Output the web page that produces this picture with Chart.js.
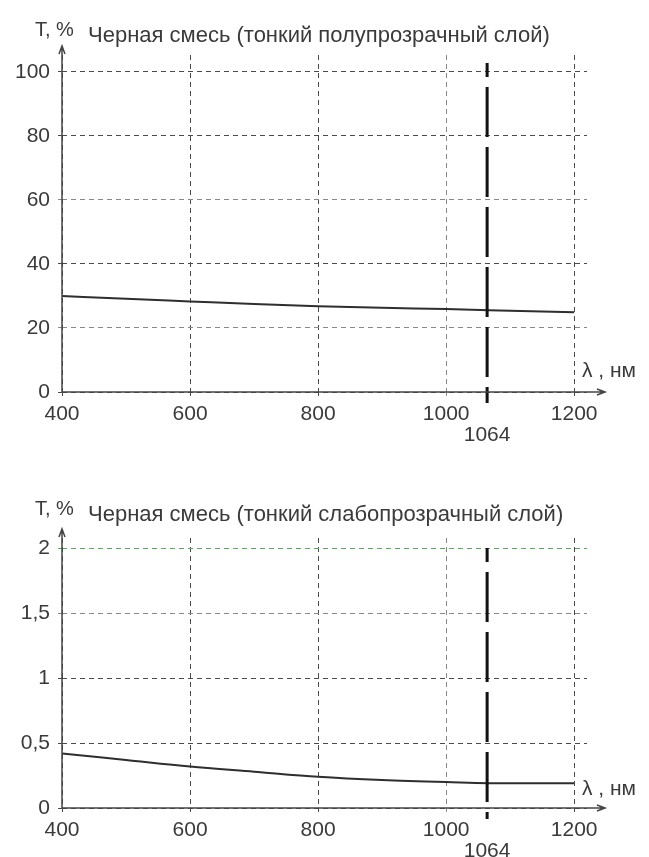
<!DOCTYPE html>
<html>
<head>
<meta charset="utf-8">
<script src="https://cdn.jsdelivr.net/npm/chart.js@4.4.1/dist/chart.umd.min.js"></script>
<style>
  html, body { margin: 0; padding: 0; background: #fff; }
  .box { position: absolute; left: 0; width: 649px; }
  #top-box { top: 0; height: 452px; }
  #bottom-box { top: 452px; height: 405px; }
</style>
</head>
<body>
<div class="box" id="top-box"><canvas id="chart-top"></canvas></div>
<div class="box" id="bottom-box"><canvas id="chart-bottom"></canvas></div>
<script>
// Données
const wavelength = [400, 500, 600, 700, 800, 900, 1000, 1100, 1200];
const transTop = [30.0, 29.1, 28.3, 27.5, 26.8, 26.3, 25.9, 25.4, 24.9];
const transBottom = [0.42, 0.37, 0.32, 0.28, 0.24, 0.215, 0.20, 0.19, 0.19];
const xTicks = [400, 600, 800, 1000, 1064, 1200];
const yTicksTop = [0, 20, 40, 60, 80, 100];
const yTicksBottom = [0, 0.5, 1, 1.5, 2];
const laserLine = 1064;

const titleTop = 'Черная смесь (тонкий полупрозрачный слой)';
const titleBottom = 'Черная смесь (тонкий слабопрозрачный слой)';

const FONT = '"Liberation Sans", Arial, sans-serif';
const TEXT = '#3a3a3a';
const GRID = '#4a4a4a';
const GREEN = '#6f9a6f';

// Plugin : titre, axes avec flèches, ligne 1064 nm
const decorPlugin = {
    id: 'decor',
    afterDraw(chart, args, opts) {
        const { ctx, chartArea, scales } = chart;
        const x0 = chartArea.left, y0 = chartArea.bottom;
        ctx.save();

        // ligne du laser 1064
        const xl = scales.x.getPixelForValue(laserLine);
        ctx.strokeStyle = '#111';
        ctx.lineWidth = 3;
        ctx.setLineDash([50, 10]);
        ctx.lineDashOffset = 36;
        ctx.beginPath();
        ctx.moveTo(xl, chartArea.top + opts.laserTop);
        ctx.lineTo(xl, y0 + 11);
        ctx.stroke();
        ctx.setLineDash([]);

        // axes pleins + flèches
        ctx.strokeStyle = '#444';
        ctx.lineWidth = 1.5;
        ctx.beginPath();
        ctx.moveTo(x0, y0);
        ctx.lineTo(x0, chartArea.top - 8);
        ctx.moveTo(x0 - 3, chartArea.top - 1);
        ctx.lineTo(x0, chartArea.top - 9);
        ctx.lineTo(x0 + 3, chartArea.top - 1);
        ctx.moveTo(x0, y0);
        ctx.lineTo(chartArea.right + 18, y0);
        ctx.moveTo(chartArea.right + 10, y0 - 3);
        ctx.lineTo(chartArea.right + 18, y0);
        ctx.lineTo(chartArea.right + 10, y0 + 3);
        ctx.stroke();

        // textes
        ctx.fillStyle = TEXT;
        ctx.textBaseline = 'alphabetic';
        ctx.textAlign = 'left';
        ctx.font = '20px ' + FONT;
        ctx.fillText('T, %', 35, opts.titleY - 6);
        ctx.font = '22px ' + FONT;
        ctx.fillText(opts.title, 88, opts.titleY);
        ctx.font = '21px ' + FONT;
        ctx.textBaseline = 'middle';
        ctx.fillText('λ , нм', 582, y0 + opts.unitDy);
        ctx.restore();
    }
};

function makeChart(canvasId, values, yTicks, yMax, padTop, opts) {
    const ctx = document.getElementById(canvasId);
    return new Chart(ctx, {
        type: 'line',
        data: {
            datasets: [{
                data: wavelength.map((w, i) => ({ x: w, y: values[i] })),
                borderColor: '#2e2e2e',
                borderWidth: 2,
                pointRadius: 0,
                tension: 0.3,
                cubicInterpolationMode: 'monotone',
                fill: false
            }]
        },
        options: {
            responsive: true,
            maintainAspectRatio: false,
            animation: false,
            layout: { padding: { top: padTop, right: 62, left: 0, bottom: 0 } },
            plugins: {
                legend: { display: false },
                tooltip: { enabled: false },
                decor: opts
            },
            scales: {
                x: {
                    type: 'linear',
                    min: 400,
                    max: 1220,
                    afterBuildTicks: (scale) => { scale.ticks = xTicks.map(v => ({ value: v })); },
                    afterFit: (scale) => { scale.height = opts.xHeight; },
                    border: { display: false, dash: [5, 4] },
                    grid: {
                        color: (c) => c.tick && c.tick.value === laserLine ? 'rgba(0,0,0,0)'
                            : (c.tick && c.tick.value === 1000 ? '#8a8a8a' : GRID),
                        lineWidth: 1,
                        tickLength: 4,
                        tickBorderDash: []
                    },
                    ticks: {
                        autoSkip: false,
                        maxRotation: 0,
                        padding: 8,
                        color: TEXT,
                        font: { family: FONT, size: 21, lineHeight: 1.0 },
                        callback: (v) => v === laserLine ? ['', '1064'] : String(v)
                    }
                },
                y: {
                    min: 0,
                    max: yMax,
                    afterBuildTicks: (scale) => { scale.ticks = yTicks.map(v => ({ value: v })); },
                    afterFit: (scale) => { scale.width = 62; },
                    border: { display: false, dash: [5, 4] },
                    grid: {
                        color: (c) => c.tick && opts.greenTicks.includes(c.tick.value) ? GREEN : GRID,
                        lineWidth: 1,
                        tickLength: 4,
                        tickBorderDash: []
                    },
                    ticks: {
                        padding: 8,
                        color: TEXT,
                        font: { family: FONT, size: 21 },
                        callback: (v) => String(v).replace('.', ',')
                    }
                }
            }
        },
        plugins: [decorPlugin]
    });
}

makeChart('chart-top', transTop, yTicksTop, 105.3, 55, {
    title: titleTop, titleY: 42, unitDy: -21, laserTop: 8, xHeight: 60, greenTicks: [60, 20]
});
// le second canevas commence à 452 px
makeChart('chart-bottom', transBottom, yTicksBottom, 2.08, 86, {
    title: titleBottom, titleY: 69, unitDy: -19, laserTop: 10, xHeight: 49, greenTicks: [2, 1.5]
});
</script>
</body>
</html>
